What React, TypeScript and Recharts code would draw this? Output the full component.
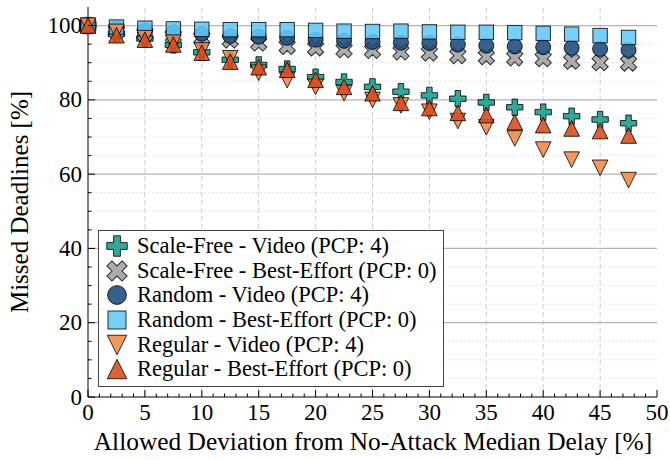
import React from 'react';
import { ScatterChart, Scatter, XAxis, YAxis, ReferenceLine } from 'recharts';

// allowed deviation from the no-attack median delay [%]
const deviation = [0, 2.5, 5, 7.5, 10, 12.5, 15, 17.5, 20, 22.5, 25, 27.5, 30, 32.5, 35, 37.5, 40, 42.5, 45, 47.5];

// missed deadlines [%]
const scaleFreeVideo = [100, 97.8, 96.5, 94.8, 92.8, 90.8, 89.4, 88.3, 86.1, 84.8, 83.5, 82.2, 81.2, 80.3, 79.3, 78.0, 76.7, 75.6, 74.7, 73.7];
const scaleFreeBestEffort = [100, 98.5, 97.8, 97.2, 96.7, 96.1, 95.3, 94.4, 94.0, 93.5, 93.3, 92.9, 92.6, 91.9, 91.6, 91.3, 91.1, 90.4, 90.0, 89.9];
const randomVideo = [100, 99.2, 98.7, 98.2, 97.8, 97.2, 97.0, 96.7, 96.2, 95.9, 95.6, 95.4, 95.3, 94.9, 94.6, 94.4, 94.2, 94.0, 93.7, 93.4];
const randomBestEffort = [100, 99.6, 99.3, 99.1, 99.0, 98.9, 98.9, 98.9, 98.7, 98.5, 98.4, 98.5, 98.3, 98.2, 98.2, 98.1, 97.9, 97.7, 97.3, 96.8];
const regularVideo = [100, 98.3, 96.6, 95.4, 93.3, 91.2, 87.3, 85.3, 83.5, 81.8, 80.0, 78.5, 76.8, 74.3, 72.6, 69.6, 66.6, 63.9, 61.7, 58.4];
const regularBestEffort = [100, 97.4, 96.2, 94.9, 92.7, 90.3, 88.8, 88.1, 85.4, 83.5, 81.8, 79.2, 77.8, 76.5, 75.9, 74.0, 73.2, 72.3, 71.6, 70.4];

const xMajorTicks = [0, 5, 10, 15, 20, 25, 30, 35, 40, 45, 50];
const yMajorTicks = [0, 20, 40, 60, 80, 100];
const xTicks = Array.from({ length: 51 }, (_, i) => i);
const yTicks = Array.from({ length: 21 }, (_, i) => i * 5);

const FONT = '"Liberation Serif", "Times New Roman", serif';

type Kind = 'plus' | 'x' | 'circle' | 'square' | 'down' | 'up';

const series: { name: string; values: number[]; kind: Kind; color: string }[] = [
    { name: 'Scale-Free - Video (PCP: 4)', values: scaleFreeVideo, kind: 'plus', color: '#179c8a' },
    { name: 'Scale-Free - Best-Effort (PCP: 0)', values: scaleFreeBestEffort, kind: 'x', color: '#a0a0a0' },
    { name: 'Random - Video (PCP: 4)', values: randomVideo, kind: 'circle', color: '#1b4a7c' },
    { name: 'Random - Best-Effort (PCP: 0)', values: randomBestEffort, kind: 'square', color: '#62c8f8' },
    { name: 'Regular - Video (PCP: 4)', values: regularVideo, kind: 'down', color: '#ef8a4a' },
    { name: 'Regular - Best-Effort (PCP: 0)', values: regularBestEffort, kind: 'up', color: '#d84a1e' },
];

function Marker({ kind, cx, cy, color, scale = 1 }: { kind: Kind; cx: number; cy: number; color: string; scale?: number }) {
    const common = { fill: color, fillOpacity: 0.88, stroke: '#000', strokeOpacity: 0.8, strokeWidth: 1 };
    if (kind === 'circle') return <circle cx={cx} cy={cy} r={7.5 * scale} {...common} />;
    if (kind === 'square') {
        const h = 7.2 * scale;
        return <rect x={cx - h} y={cy - h} width={2 * h} height={2 * h} {...common} />;
    }
    if (kind === 'up' || kind === 'down') {
        const h = 7.8 * scale;
        const s = kind === 'up' ? 1 : -1;
        return <path d={`M${cx},${cy - s * h} L${cx + h},${cy + s * h} L${cx - h},${cy + s * h} Z`} {...common} />;
    }
    const h = (kind === 'x' ? 8.6 : 8.2) * scale;
    const a = h / 3;
    const d = `M${-a},${-h} L${a},${-h} L${a},${-a} L${h},${-a} L${h},${a} L${a},${a} L${a},${h} L${-a},${h} L${-a},${a} L${-h},${a} L${-h},${-a} L${-a},${-a} Z`;
    return <path d={d} transform={`translate(${cx},${cy}) rotate(${kind === 'x' ? 45 : 0})`} {...common} />;
}

const BottomTick = ({ x, y, payload }: any) => {
    const major = xMajorTicks.includes(payload.value);
    return (
        <g>
            <line x1={x} x2={x} y1={y} y2={y - (major ? 7 : 3.5)} stroke="#000" />
            {major && (
                <text x={x} y={y + 23} textAnchor="middle" fontSize={23} fontFamily={FONT} fill="#000">
                    {payload.value}
                </text>
            )}
        </g>
    );
};

const TopTick = ({ x, y, payload }: any) => {
    const major = xMajorTicks.includes(payload.value);
    return <line x1={x} x2={x} y1={y} y2={y + (major ? 7 : 3.5)} stroke="#000" />;
};

const LeftTick = ({ x, y, payload }: any) => {
    const major = yMajorTicks.includes(payload.value);
    return (
        <g>
            <line x1={x} x2={x + (major ? 7 : 3.5)} y1={y} y2={y} stroke="#000" />
            {major && (
                <text x={x - 6} y={y + 7.5} textAnchor="end" fontSize={23} fontFamily={FONT} fill="#000">
                    {payload.value}
                </text>
            )}
        </g>
    );
};

const RightTick = ({ x, y, payload }: any) => {
    const major = yMajorTicks.includes(payload.value);
    return <line x1={x} x2={x - (major ? 7 : 3.5)} y1={y} y2={y} stroke="#000" />;
};

export default function App() {
    return (
        <div style={{ position: 'relative', width: 670, height: 460, background: '#fff' }}>
            <style>{'body { margin: 0; }'}</style>
            <ScatterChart width={670} height={460} margin={{ top: 7, right: 13, bottom: 0, left: 0 }}>
                <XAxis
                    type="number"
                    dataKey="x"
                    domain={[0, 50]}
                    ticks={xTicks}
                    interval={0}
                    height={63}
                    tickSize={0}
                    tickMargin={0}
                    tick={<BottomTick />}
                    axisLine={{ stroke: '#000' }}
                    tickLine={false}
                    label={{
                        content: () => (
                            <text x={373} y={450} textAnchor="middle" fontSize={25.4} fontFamily={FONT} fill="#000">
                                Allowed Deviation from No-Attack Median Delay [%]
                            </text>
                        ),
                    }}
                />
                <XAxis
                    xAxisId="top"
                    orientation="top"
                    type="number"
                    domain={[0, 50]}
                    ticks={xTicks}
                    interval={0}
                    height={0}
                    tickSize={0}
                    tickMargin={0}
                    tick={<TopTick />}
                    axisLine={{ stroke: '#000' }}
                    tickLine={false}
                />
                <YAxis
                    type="number"
                    dataKey="y"
                    domain={[0, 105]}
                    ticks={yTicks}
                    interval={0}
                    width={88}
                    tickSize={0}
                    tickMargin={0}
                    tick={<LeftTick />}
                    axisLine={{ stroke: '#000' }}
                    tickLine={false}
                    label={{
                        content: () => (
                            <text
                                x={28}
                                y={202}
                                textAnchor="middle"
                                transform="rotate(-90, 28, 202)"
                                fontSize={25}
                                fontFamily={FONT}
                                fill="#000"
                            >
                                Missed Deadlines [%]
                            </text>
                        ),
                    }}
                />
                <YAxis
                    yAxisId="right"
                    orientation="right"
                    type="number"
                    domain={[0, 105]}
                    ticks={yTicks}
                    interval={0}
                    width={0}
                    tickSize={0}
                    tickMargin={0}
                    tick={<RightTick />}
                    axisLine={{ stroke: '#000' }}
                    tickLine={false}
                />

                {yTicks.filter((v) => v > 0 && !yMajorTicks.includes(v)).map((v) => (
                    <ReferenceLine key={`ym${v}`} y={v} stroke="#dcdcdc" strokeDasharray="1.5 2.5" />
                ))}
                {xMajorTicks.filter((v) => v > 0 && v < 50).map((v) => (
                    <ReferenceLine key={`xg${v}`} x={v} stroke="#cfcfcf" strokeDasharray="5 3" />
                ))}
                {yMajorTicks.filter((v) => v > 0).map((v) => (
                    <ReferenceLine key={`yg${v}`} y={v} stroke="#b4b4b4" strokeWidth={1.2} />
                ))}

                {series.map((s) => (
                    <Scatter
                        key={s.name}
                        name={s.name}
                        data={deviation.map((x, i) => ({ x, y: s.values[i] }))}
                        isAnimationActive={false}
                        shape={(p: any) => <Marker kind={s.kind} cx={p.cx} cy={p.cy} color={s.color} />}
                    />
                ))}
            </ScatterChart>

            <div
                style={{
                    position: 'absolute',
                    left: 98,
                    top: 230,
                    width: 346,
                    height: 157,
                    boxSizing: 'border-box',
                    border: '1.5px solid #444',
                    background: 'rgba(255,255,255,0.92)',
                    paddingTop: 3,
                    fontFamily: FONT,
                    fontSize: 22.5,
                    color: '#000',
                }}
            >
                {series.map((s) => (
                    <div key={s.name} style={{ display: 'flex', alignItems: 'center', height: 24.6, whiteSpace: 'nowrap' }}>
                        <svg width={38} height={24} style={{ flex: 'none' }}>
                            <Marker kind={s.kind} cx={18} cy={12} color={s.color} scale={1.25} />
                        </svg>
                        <span>{s.name}</span>
                    </div>
                ))}
            </div>
        </div>
    );
}
